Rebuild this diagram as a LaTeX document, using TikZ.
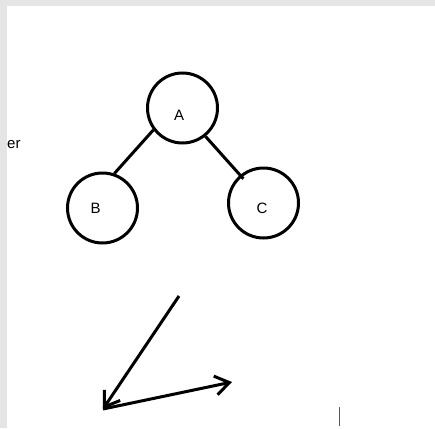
\documentclass[tikz,border=0pt]{standalone}
\usepackage{fontspec}
\setmainfont{Liberation Sans}
\usetikzlibrary{arrows.meta}

\begin{document}
\begin{tikzpicture}[x=1pt,y=-1pt,font=\fontsize{15}{17}\selectfont,
    treenode/.style={draw,circle,line width=3pt,minimum size=70pt,inner sep=0pt},
    edge/.style={line width=3pt},
    vec/.style={line width=3pt,-{Straight Barb[length=14pt,width=19pt]}}]
  % Canvas
  \fill[gray!20] (0,0) rectangle (435,428);
  \fill[white] (7,6) rectangle (435,428);
  \useasboundingbox (0,0) rectangle (435,428);
  \node[anchor=base west,inner sep=0pt] (er) at (7,148) {er};
  % Tree
  \node[treenode,label={[shift={(-3.5,7)}]center:A}] (A) at (182.5,108) {};
  \node[treenode,label={[shift={(-7,0)}]center:B}] (B) at (102.5,208) {};
  \node[treenode,label={[shift={(-1.5,5)}]center:C}] (C) at (263.5,203) {};
  \draw[edge] (A.217) -- (B.71);
  \draw[edge,shorten >=-5pt] (A.309) -- (C.130);
  % Vectors
  \coordinate (p) at (179,296);
  \coordinate (o) at (103,409);
  \coordinate (q) at (232,382);
  \draw[vec] (p) -- (o);
  \draw[vec] (o) -- (q);
  % Cursor
  \draw[gray!70!black,line width=1pt] (339.5,407) -- (339.5,426);
\end{tikzpicture}
\end{document}
